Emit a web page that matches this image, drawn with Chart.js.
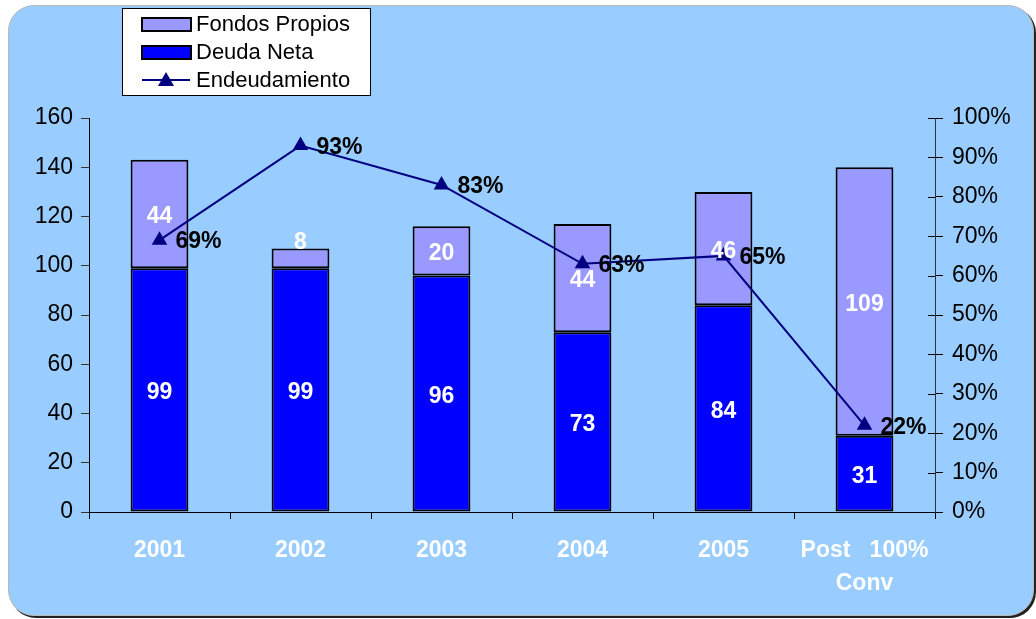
<!DOCTYPE html>
<html>
<head>
<meta charset="utf-8">
<script src="https://cdn.jsdelivr.net/npm/chart.js@4.4.0/dist/chart.umd.min.js"></script>
<style>
  html, body { margin: 0; padding: 0; background: #fff; }
  #wrap { position: relative; width: 1036px; height: 619px; overflow: hidden; }
  #panel {
    position: absolute; left: 8px; top: 5px; width: 1026px; height: 611px;
    background: #99CCFF; border: 1px solid #b8b8b8; border-radius: 26px;
    box-sizing: border-box; box-shadow: 2px 2px 0 #222;
  }
  #chart { position: absolute; left: 0; top: 0; }
</style>
</head>
<body>
<div id="wrap">
  <div id="panel"></div>
  <canvas id="chart" width="1036" height="619"></canvas>
</div>
<script>
const categories = [['2001'], ['2002'], ['2003'], ['2004'], ['2005'], ['Post   100%', 'Conv']];
const deudaNeta = [99, 99, 96, 73, 84, 31];
const fondosPropios = [44, 8, 20, 44, 46, 109];
const endeudamiento = [69, 93, 83, 63, 65, 22];
const leftTicks = [0, 20, 40, 60, 80, 100, 120, 140, 160];
const rightTicks = [0, 10, 20, 30, 40, 50, 60, 70, 80, 90, 100];

const FONT = '"Liberation Sans", Arial, sans-serif';

// value labels: white inside bars, black to the right of line points
const labelPlugin = {
    id: 'labels',
    afterDatasetsDraw(chart) {
        const ctx = chart.ctx;
        ctx.save();
        ctx.font = 'bold 23px ' + FONT;
        chart.data.datasets.forEach((ds, i) => {
            const meta = chart.getDatasetMeta(i);
            meta.data.forEach((el, j) => {
                if (ds.type === 'line') {
                    ctx.fillStyle = '#000';
                    ctx.textAlign = 'left';
                    ctx.textBaseline = 'middle';
                    ctx.fillText(ds.data[j] + '%', el.x + 16, el.y + 2);
                } else {
                    ctx.fillStyle = '#fff';
                    ctx.textAlign = 'center';
                    ctx.textBaseline = 'middle';
                    let y = (el.y + el.base) / 2 + 3;
                    if (Math.abs(el.base - el.y) < 30) y = el.y - 6;
                    ctx.fillText(ds.data[j], el.x, y);
                }
            });
        });
        // right axis ticks cross the axis line
        const s = chart.scales.y2;
        ctx.strokeStyle = '#000';
        ctx.lineWidth = 1;
        s.ticks.forEach(t => {
            const py = Math.round(s.getPixelForValue(t.value)) + 0.5;
            ctx.beginPath();
            ctx.moveTo(s.left - 7, py);
            ctx.lineTo(s.left, py);
            ctx.stroke();
        });
        ctx.restore();
    }
};

// boxed legend in the top-left corner
const legendPlugin = {
    id: 'boxLegend',
    afterDraw(chart) {
        const ctx = chart.ctx;
        const x = 122, y = 8, w = 248, h = 87;
        ctx.save();
        ctx.fillStyle = '#fff';
        ctx.fillRect(x, y, w, h);
        ctx.strokeStyle = '#000';
        ctx.lineWidth = 1;
        ctx.strokeRect(x + 0.5, y + 0.5, w, h);
        const items = [chart.data.datasets[2], chart.data.datasets[1], chart.data.datasets[0]];
        ctx.font = '22px ' + FONT;
        ctx.textBaseline = 'middle';
        items.forEach((ds, k) => {
            const cy = y + 16 + k * 28;
            if (ds.type === 'line') {
                ctx.strokeStyle = ds.borderColor;
                ctx.lineWidth = 2;
                ctx.beginPath();
                ctx.moveTo(142, cy);
                ctx.lineTo(190, cy);
                ctx.stroke();
                ctx.fillStyle = ds.borderColor;
                ctx.beginPath();
                ctx.moveTo(166, cy - 8);
                ctx.lineTo(174, cy + 6);
                ctx.lineTo(158, cy + 6);
                ctx.closePath();
                ctx.fill();
            } else {
                ctx.fillStyle = ds.backgroundColor;
                ctx.fillRect(142, cy - 6, 49, 13);
                ctx.strokeStyle = '#000';
                ctx.lineWidth = 2;
                ctx.strokeRect(142, cy - 6, 49, 13);
            }
            ctx.fillStyle = '#000';
            ctx.textAlign = 'left';
            ctx.fillText(ds.label, 196, cy + 1);
        });
        ctx.restore();
    }
};

const chart = new Chart(document.getElementById('chart'), {
    type: 'bar',
    data: {
        labels: categories,
        datasets: [
            {
                type: 'line',
                label: 'Endeudamiento',
                data: endeudamiento,
                yAxisID: 'y2',
                borderColor: '#000080',
                backgroundColor: '#000080',
                borderWidth: 2,
                pointStyle: 'triangle',
                pointRadius: 9,
                pointBorderWidth: 0,
                tension: 0,
                order: 0
            },
            {
                label: 'Deuda Neta',
                data: deudaNeta,
                backgroundColor: '#0000FF',
                borderColor: '#000',
                borderWidth: 2,
                borderSkipped: false,
                categoryPercentage: 1,
                barPercentage: 0.41,
                order: 1
            },
            {
                label: 'Fondos Propios',
                data: fondosPropios,
                backgroundColor: '#9999FF',
                borderColor: '#000',
                borderWidth: 2,
                borderSkipped: false,
                categoryPercentage: 1,
                barPercentage: 0.41,
                order: 1
            }
        ]
    },
    options: {
        responsive: false,
        animation: false,
        layout: { padding: { top: 118, left: 0, right: 0, bottom: 0 } },
        plugins: {
            legend: { display: false },
            tooltip: { enabled: false }
        },
        scales: {
            x: {
                stacked: true,
                grid: { offset: true, drawOnChartArea: false, tickLength: 7, color: '#000' },
                border: { color: '#000', width: 1 },
                ticks: { color: '#fff', font: { family: FONT, size: 23, weight: 'bold', lineHeight: 1.4 }, padding: 16, maxRotation: 0 },
                afterFit(s) { s.height = 107; }
            },
            y: {
                stacked: true,
                min: 0, max: 160,
                afterBuildTicks(s) { s.ticks = leftTicks.map(v => ({ value: v })); },
                grid: { drawOnChartArea: false, tickLength: 8, color: '#333' },
                border: { color: '#000', width: 1 },
                ticks: { color: '#000', font: { family: FONT, size: 23 }, padding: 8 },
                afterFit(s) { s.width = 89; }
            },
            y2: {
                position: 'right',
                min: 0, max: 100,
                afterBuildTicks(s) { s.ticks = rightTicks.map(v => ({ value: v })); },
                grid: { drawOnChartArea: false, tickLength: 8, color: '#000' },
                border: { color: '#333', width: 1 },
                ticks: { color: '#000', font: { family: FONT, size: 23 }, padding: 9, callback: v => v + '%' },
                afterFit(s) { s.width = 101; }
            }
        }
    },
    plugins: [labelPlugin, legendPlugin]
});
</script>
</body>
</html>
